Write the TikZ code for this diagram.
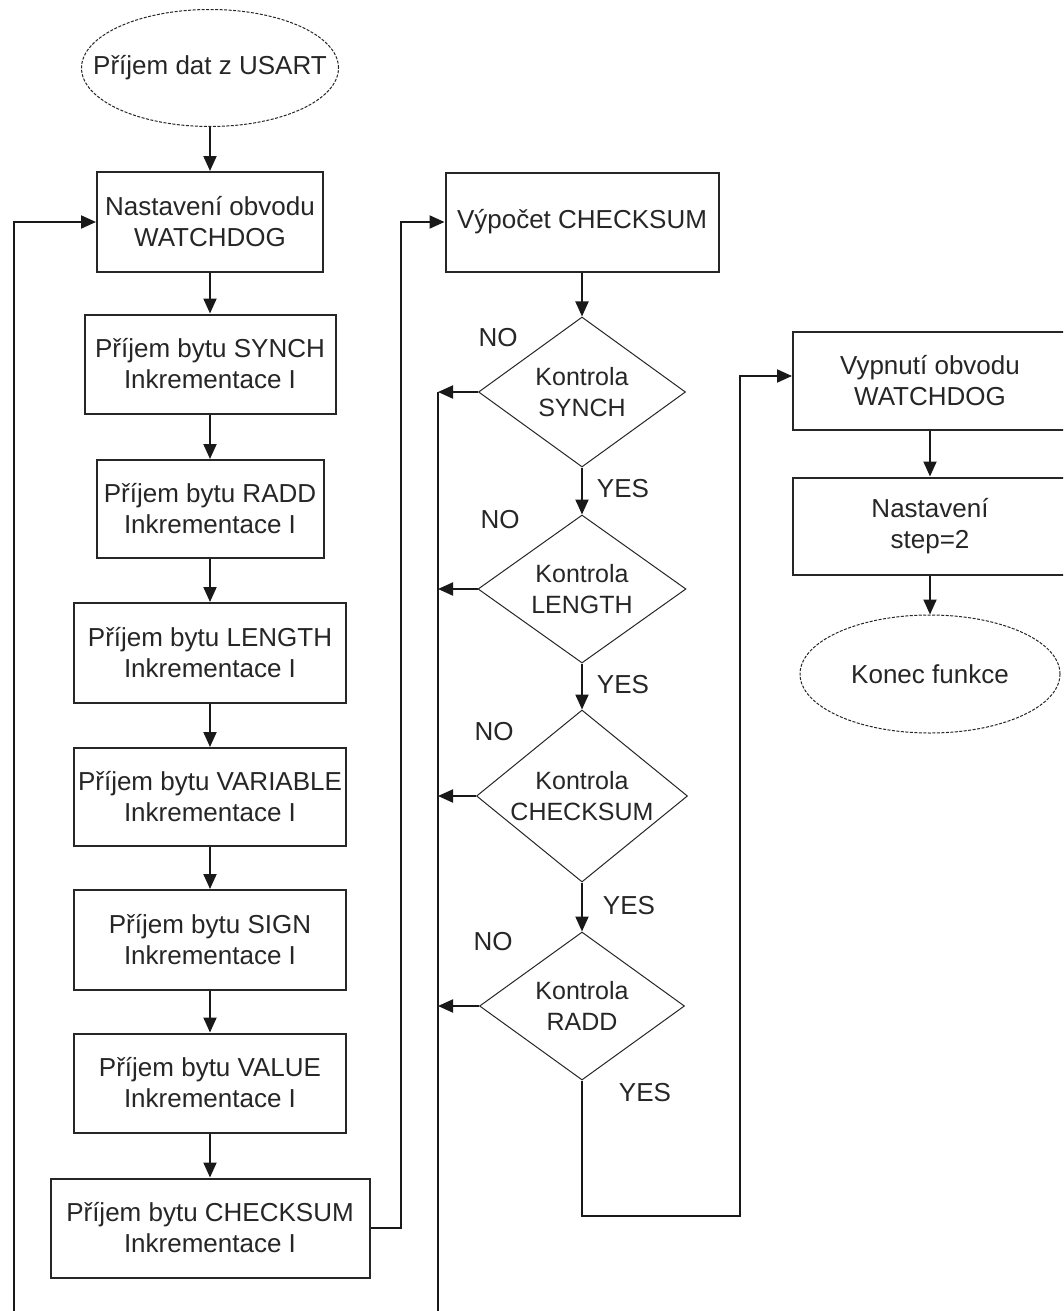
\documentclass[tikz,border=0pt]{standalone}
\usepackage{fontspec}
\setmainfont{Liberation Sans}
\usetikzlibrary{shapes.geometric,arrows.meta}
\begin{document}
\begin{tikzpicture}[x=1pt,y=-1pt,
  txt/.style={text=black!85, font=\fontsize{26}{31}\selectfont, align=center, inner sep=0pt},
  box/.style={txt, draw=black!85, line width=2pt},
  dia/.style={draw=black!85, line width=1pt, diamond, inner sep=0pt},
  term/.style={draw=black!85, line width=1pt, ellipse, dash pattern=on 3pt off 1.5pt, inner sep=0pt},
  dtxt/.style={txt, font=\fontsize{25}{31}\selectfont},
  conn/.style={draw=black!90, line width=2pt},
  arr/.style={conn, -{Triangle[length=15pt,width=13pt]}},
  lbl/.style={txt}
]
\useasboundingbox (0,0) rectangle (1063,1311);
\clip (0,0) rectangle (1063,1311);
\fill[white] (0,0) rectangle (1063,1311);

% left column
\node[term, minimum width=257pt, minimum height=117pt] (start) at (210,68) {};
\node[txt] (starttxt) at (start) {Příjem dat z USART};
\node[box, minimum width=226pt, minimum height=100pt] (b1) at (210,222) {Nastavení obvodu\\WATCHDOG};
\node[box, minimum width=251pt, minimum height=99pt] (b2) at (210,364) {Příjem bytu SYNCH\\Inkrementace I};
\node[box, minimum width=227pt, minimum height=98pt] (b3) at (210,509) {Příjem bytu RADD\\Inkrementace I};
\node[box, minimum width=272pt, minimum height=100pt] (b4) at (210,653) {Příjem bytu LENGTH\\Inkrementace I};
\node[box, minimum width=272pt, minimum height=98pt] (b5) at (210,797) {Příjem bytu VARIABLE\\Inkrementace I};
\node[box, minimum width=272pt, minimum height=100pt] (b6) at (210,940) {Příjem bytu SIGN\\Inkrementace I};
\node[box, minimum width=272pt, minimum height=99pt] (b7) at (210,1083) {Příjem bytu VALUE\\Inkrementace I};
\node[box, minimum width=319pt, minimum height=99pt] (b8) at (210,1228) {Příjem bytu CHECKSUM\\Inkrementace I};

% middle column
\node[box, minimum width=273pt, minimum height=99pt] (vyp) at (582,222) {Výpočet CHECKSUM};
\node[dia, minimum width=207pt, minimum height=150pt] (d1) at (582,392) {};
\node[dtxt] (d1t) at (d1) {Kontrola\\SYNCH};
\node[dia, minimum width=208pt, minimum height=148pt] (d2) at (582,589) {};
\node[dtxt] (d2t) at (d2) {Kontrola\\LENGTH};
\node[dia, minimum width=211pt, minimum height=172pt] (d3) at (582,796) {};
\node[dtxt] (d3t) at (d3) {Kontrola\\CHECKSUM};
\node[dia, minimum width=205pt, minimum height=148pt] (d4) at (582,1006) {};
\node[dtxt] (d4t) at (d4) {Kontrola\\RADD};

\node[lbl] (no1) at (498,338) {NO};
\node[lbl] (no2) at (500,520) {NO};
\node[lbl] (no3) at (494,732) {NO};
\node[lbl] (no4) at (493,942) {NO};
\node[lbl] (yes1) at (623,489) {YES};
\node[lbl] (yes2) at (623,685) {YES};
\node[lbl] (yes3) at (629,906) {YES};
\node[lbl] (yes4) at (645,1093) {YES};

% right column
\node[box, minimum width=274pt, minimum height=98pt] (off) at (930,381) {Vypnutí obvodu\\WATCHDOG};
\node[box, minimum width=274pt, minimum height=97pt] (st) at (930,526) {Nastavení\\step=2};
\node[term, minimum width=260pt, minimum height=118pt] (end) at (930,674) {};
\node[txt] (endtxt) at (end) {Konec funkce};

% coordinates for free ends
\coordinate (lbot) at (14,1330);
\coordinate (mtop) at (438,392);
\coordinate (mbot) at (438,1330);
\coordinate (r1) at (740,1216);

% connectors left column
\draw[arr] (start) -- (b1);
\draw[arr] (b1) -- (b2);
\draw[arr] (b2) -- (b3);
\draw[arr] (b3) -- (b4);
\draw[arr] (b4) -- (b5);
\draw[arr] (b5) -- (b6);
\draw[arr] (b6) -- (b7);
\draw[arr] (b7) -- (b8);
\draw[arr] (lbot) |- (b1.west);
\draw[arr] (b8.east) -- ++(30,0) |- (vyp.west);

% middle column
\draw[arr] (vyp) -- (d1);
\draw[arr] (d1.south) -- (d2.north);
\draw[arr] (d2.south) -- (d3.north);
\draw[arr] (d3.south) -- (d4.north);
\draw[conn] (mtop) -- (mbot);
\draw[arr] (d1.west) -- (d1.west -| mtop);
\draw[arr] (d2.west) -- (d2.west -| mtop);
\draw[arr] (d3.west) -- (d3.west -| mtop);
\draw[arr] (d4.west) -- (d4.west -| mtop);
\draw[arr] (d4.south) |- (r1) |- ([yshift=5pt]off.west);

% right column
\draw[arr] (off) -- (st);
\draw[arr] (st) -- (end);
\end{tikzpicture}
\end{document}
